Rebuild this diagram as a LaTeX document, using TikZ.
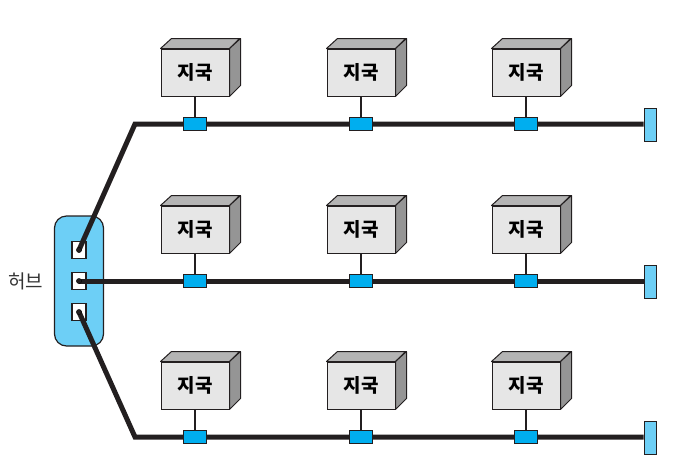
\documentclass[tikz,border=0pt]{standalone}
\usepackage{fontspec}
\newfontfamily\kofont{Noto Sans CJK KR}
\usetikzlibrary{positioning}

\definecolor{cable}{HTML}{231F20}
\definecolor{hubblue}{HTML}{6DCFF6}
\definecolor{tapblue}{HTML}{00AEEF}
\definecolor{boxfront}{HTML}{E6E6E6}
\definecolor{boxtop}{HTML}{B4B4B4}
\definecolor{boxside}{HTML}{959595}

\tikzset{
    stationbox/.style={draw=cable, fill=boxfront, line width=1pt, inner sep=0pt,
        minimum width=68, minimum height=47, font=\kofont\bfseries\fontsize{19}{19}\selectfont},
    tapbox/.style={draw=cable, fill=tapblue, line width=0.8pt, inner sep=0pt,
        minimum width=23, minimum height=13},
    endbox/.style={draw=cable, fill=hubblue, line width=1pt, inner sep=0pt,
        minimum width=12, minimum height=33},
    portbox/.style={draw=cable, fill=white, line width=1.2pt, inner sep=0pt,
        minimum width=14, minimum height=17},
    bus/.style={draw=cable, line width=5pt},
    drop/.style={draw=cable, line width=1.2pt}
}

\begin{document}
\begin{tikzpicture}[x=1pt,y=-1pt]
    \useasboundingbox (0,0) rectangle (682,475);

    % hub
    \node[draw=cable, fill=hubblue, line width=1.2pt, rounded corners=12pt, inner sep=0pt,
        minimum width=49, minimum height=130] (hub) at (79,281) {};
    \node[anchor=east, text=black!80, font=\kofont\fontsize{19}{19}\selectfont] (hublabel) at (47,281) {허브};
    \node[portbox] (port1) at (79,250) {};
    \node[portbox] (port2) at (79,281) {};
    \node[portbox] (port3) at (79,312) {};

    % terminators and bends
    \coordinate (bend1) at (135,124);
    \coordinate (bend3) at (135,437);
    \node[endbox] (term1) at (650,124.5) {};
    \node[endbox] (term2) at (650,281.5) {};
    \node[endbox] (term3) at (650,437.5) {};

    % cables
    \draw[bus] (port1.center) -- (bend1) -- (term1.west |- bend1);
    \draw[bus] (port2.center) -- (term2.west |- port2);
    \draw[bus] (port3.center) -- (bend3) -- (term3.west |- bend3);
    \draw[fill=cable] (port1.center) circle (2.6);
    \draw[fill=cable] (port2.center) circle (2.6);
    \draw[fill=cable] (port3.center) circle (2.6);
    \node[endbox] at (term1) {};
    \node[endbox] at (term2) {};
    \node[endbox] at (term3) {};

    % stations
    \node[stationbox] (st11) at (195,72.5) {지국};
    \node[stationbox] (st12) at (361,72.5) {지국};
    \node[stationbox] (st13) at (526,72.5) {지국};
    \node[stationbox] (st21) at (195,229.5) {지국};
    \node[stationbox] (st22) at (361,229.5) {지국};
    \node[stationbox] (st23) at (526,229.5) {지국};
    \node[stationbox] (st31) at (195,385.5) {지국};
    \node[stationbox] (st32) at (361,385.5) {지국};
    \node[stationbox] (st33) at (526,385.5) {지국};

    \foreach \s in {st11,st12,st13,st21,st22,st23,st31,st32,st33} {
        \filldraw[fill=boxtop, draw=cable, line width=1pt, line join=round]
            (\s.north west) -- ++(11,-10) -- ++(68,0) -- (\s.north east) -- cycle;
        \filldraw[fill=boxside, draw=cable, line width=1pt, line join=round]
            (\s.south east) -- (\s.north east) -- ++(11,-10) -- ++(0,47) -- cycle;
    }

    % taps
    \node[tapbox] (tap11) at (195,124) {};
    \node[tapbox] (tap12) at (361,124) {};
    \node[tapbox] (tap13) at (526,124) {};
    \node[tapbox] (tap21) at (195,281) {};
    \node[tapbox] (tap22) at (361,281) {};
    \node[tapbox] (tap23) at (526,281) {};
    \node[tapbox] (tap31) at (195,437) {};
    \node[tapbox] (tap32) at (361,437) {};
    \node[tapbox] (tap33) at (526,437) {};

    \draw[drop] (st11) -- (tap11);
    \draw[drop] (st12) -- (tap12);
    \draw[drop] (st13) -- (tap13);
    \draw[drop] (st21) -- (tap21);
    \draw[drop] (st22) -- (tap22);
    \draw[drop] (st23) -- (tap23);
    \draw[drop] (st31) -- (tap31);
    \draw[drop] (st32) -- (tap32);
    \draw[drop] (st33) -- (tap33);
\end{tikzpicture}
\end{document}
